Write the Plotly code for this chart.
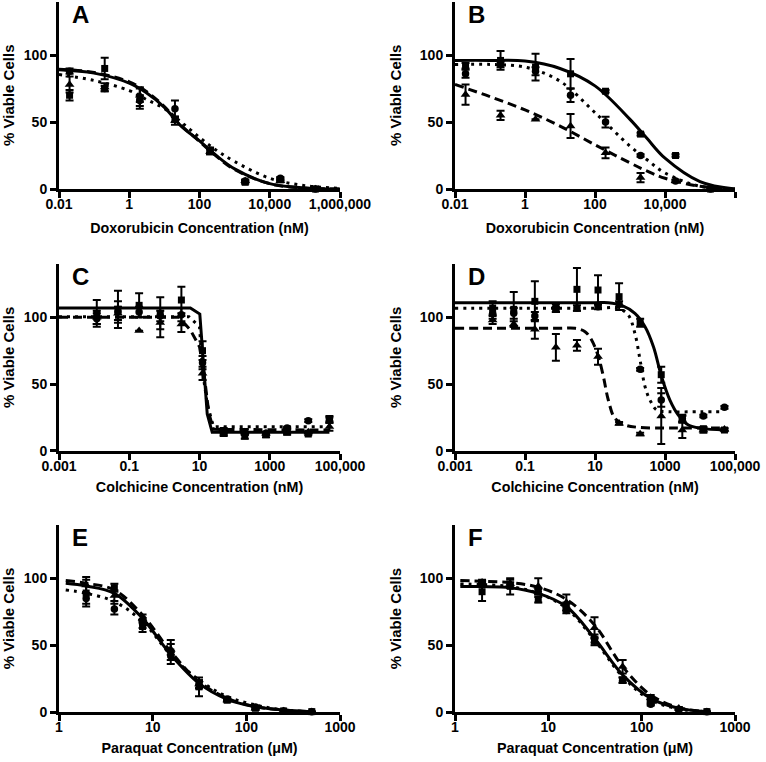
import plotly.graph_objects as go

# ---------------- data ----------------
dox_conc = [0.02, 0.2, 2, 20, 200, 2000, 20000, 200000]
colch_conc = [0.0119, 0.0477, 0.191, 0.763, 3.05, 12.2, 48.8, 195, 781, 3125, 12500, 50000]
pq_conc = [1.95, 3.9, 7.8, 15.6, 31.25, 62.5, 125, 250, 500]

# Panel A
A_sq = [70, 90, 68, 52, 28, 5, 7, 0]
A_sq_err = [4, 8, 8, 2, 2, 1, 1, 0]
A_ci = [88, 75, 66, 60, 29, 6, 8, 0]
A_ci_err = [2, 2, 4, 6, 2, 1, 1, 0]
A_tri = [78, 76, 70, 51, 28, 6, 6, 0]
A_tri_err = [6, 3, 5, 3, 2, 1, 1, 0]
A_fit_x = [0.01, 0.1, 1, 3, 10, 30, 100, 300, 1000, 10000, 100000, 1000000]
A_sq_fit = [89, 86.5, 79, 72, 61, 47, 36, 25, 15, 4, 0.8, 0]
A_ci_fit = [85.5, 81, 73.5, 67, 60, 50, 38.5, 29, 20.5, 8, 2.5, 0.5]
A_tri_fit = [89.5, 87, 80, 73, 61.5, 47.5, 35.5, 24.5, 14.5, 4, 0.7, 0]

# Panel B
B_sq = [92, 96, 91, 86, 73, 41, 25, 0]
B_sq_err = [2, 7, 10, 11, 1, 1, 1, 0]
B_ci = [86, 93, 88, 70, 50, 25, 6, 0]
B_ci_err = [3, 2, 3, 5, 4, 1, 1, 0]
B_tri = [70.5, 55, 52, 47, 27, 8.5, 6, 0]
B_tri_err = [7.5, 3.5, 0, 9, 4, 3.5, 1, 0]
B_fit_x = [0.01, 0.1, 1, 10, 100, 1000, 3000, 10000, 100000, 1000000]
B_sq_fit = [96, 96, 95.5, 90, 77, 52, 38, 23, 5.5, 0]
B_ci_fit = [93, 93, 91, 80.5, 57, 32, 22, 12, 2, 0]
B_tri_fit = [78, 69, 59, 47, 33, 19.5, 13.5, 8, 2, 0]

# Panel C
C_sq = [103, 106, 109, 103, 113, 75, 13, 11, 12, 14, 12.5, 23]
C_sq_err = [10, 14, 9, 12, 10, 7, 2, 2, 2, 2, 1, 2]
C_ci = [99, 104, 104, 101, 102, 66, 14, 13, 13, 17, 22.5, 24]
C_ci_err = [4, 8, 4, 4, 5, 5, 2, 1, 1, 1, 1, 2]
C_tri = [100, 103, 90, 96, 95, 58, 15, 14, 13, 15, 14, 18]
C_tri_err = [5, 5, 0, 11, 6, 5, 2, 2, 1, 2, 1, 3]
C_sq_fit_x = [0.001, 5.5, 10.2, 16.6, 23, 50000]
C_sq_fit = [107, 107, 102.5, 27.5, 13.75, 13.75]
C_ci_fit_x = [0.001, 5, 10, 12.2, 16.6, 25, 50000]
C_ci_fit = [100.5, 100.5, 93, 60, 35, 18, 18]
C_tri_fit_x = [0.001, 2.6, 5.5, 10, 13.4, 18.5, 25, 50000]
C_tri_fit = [100, 100, 90.5, 78, 58, 28, 16, 15.5]

# Panel D
D_sq = [107, 106, 112, 107, 121, 120.5, 115.5, 96, 57, 24, 16.5, 15.5]
D_sq_err = [5, 13, 15, 3, 16, 11, 10, 3, 6, 3, 1, 1]
D_ci = [103, 103, 101, 106, 107, 108, 110, 61, 38, 24, 26, 32.5]
D_ci_err = [4, 4, 3, 2, 2, 2, 2, 1, 5, 2, 1, 1]
D_tri = [98, 95, 91, 77.5, 79, 70.5, 20.5, 12.5, 26, 15.5, 15.5, 16]
D_tri_err = [3, 2, 7, 10, 4, 6, 1, 1, 21, 6, 2, 1]
D_sq_fit_x = [0.001, 0.1, 10, 24, 58, 138, 269, 468, 798, 1380, 2400, 4650, 11200, 50000]
D_sq_fit = [111, 111, 111, 111, 109, 103, 93, 78, 55.5, 38, 26.75, 19.25, 16.75, 15.5]
D_ci_fit_x = [0.001, 0.1, 10, 46, 89, 138, 194, 269, 372, 576, 1270, 10000, 50000]
D_ci_fit = [106.75, 106.75, 106.75, 106.75, 101.75, 88, 68, 48, 38, 30.5, 29.25, 29.25, 29.25]
D_tri_fit_x = [0.001, 0.01, 0.1, 1, 2.7, 5.2, 8, 12.5, 17.4, 24, 37, 72, 174, 2000, 50000]
D_tri_fit = [91.75, 91.75, 91.75, 91.75, 91.75, 89.25, 83, 70.5, 55.5, 38, 24.25, 19.25, 17.5, 17, 17]

# Panel E
E_sq = [89, 93, 64, 45, 19, 9, 3, 1, 0.5]
E_sq_err = [10, 3, 4, 9, 7, 1, 1, 0, 0]
E_ci = [85, 77, 66, 42, 21, 10, 4, 1, 0.5]
E_ci_err = [4, 4, 3, 3, 3, 1, 1, 0, 0]
E_tri = [95, 87, 70, 47, 21, 9, 3, 1, 0.5]
E_tri_err = [6, 4, 3, 4, 3, 1, 1, 0, 0]
E_fit_x = [1.18, 1.95, 3.9, 7.8, 15.6, 31.25, 62.5, 125, 250, 500]
E_sq_fit = [96.3, 94.3, 88.8, 70.1, 43, 21.6, 9.7, 4.2, 1.7, 0.5]
E_ci_fit = [91.3, 88.8, 82.6, 67.7, 42.8, 24.1, 11.7, 5.5, 1.7, 0.5]
E_tri_fit = [98.3, 96.3, 91.3, 72.6, 45.3, 22.9, 10.4, 4.2, 1.7, 0.5]

# Panel F
F_sq = [90, 94, 84, 79, 53, 24, 7, 2, 0.5]
F_sq_err = [7, 6, 2, 3, 3, 2, 1, 0, 0]
F_ci = [96, 95, 90, 76, 55, 24, 6, 2, 0.5]
F_ci_err = [2, 2, 2, 2, 3, 2, 1, 0, 0]
F_tri = [97, 96, 94, 82, 63, 34, 11, 3, 0.5]
F_tri_err = [2, 3, 6, 6, 8, 5, 2, 1, 0]
F_fit_x = [1.14, 1.95, 3.9, 7.8, 15.6, 31.25, 62.5, 125, 250, 500]
F_sq_fit = [93.8, 93.8, 93, 88.8, 78.9, 55.2, 27.9, 10.4, 3, 0.5]
F_ci_fit = [95.8, 95.3, 93.8, 88.8, 77.6, 54, 26.6, 9.2, 2.5, 0.5]
F_tri_fit = [98.3, 97.8, 96.8, 93.3, 84.3, 65.2, 34.1, 12.9, 3.5, 0.5]

# tick labels
dox_ticks = [0.01, 1, 100, 10000, 1000000]
dox_ticklabels = ["0.01", "1", "100", "10,000", "1,000,000"]
colch_ticks = [0.001, 0.1, 10, 1000, 100000]
colch_ticklabels = ["0.001", "0.1", "10", "1000", "100,000"]
pq_ticks = [1, 10, 100, 1000]
pq_ticklabels = ["1", "10", "100", "1000"]
y_ticks = [0, 50, 100]
y_ticklabels = ["0", "50", "100"]

panel_letters = ["A", "B", "C", "D", "E", "F"]
x_titles = ["Doxorubicin Concentration (nM)", "Doxorubicin Concentration (nM)",
            "Colchicine Concentration (nM)", "Colchicine Concentration (nM)",
            "Paraquat Concentration (μM)", "Paraquat Concentration (μM)"]
y_title = "% Viable Cells"

# ---------------- figure ----------------
FONT = "Liberation Sans, Arial, Helvetica, sans-serif"
W, H = 766, 762
col_px = [(59, 340), (455, 735)]
row_px = [(1.5, 189), (264, 450.7), (524.7, 712.3)]
row_title_standoff = [13, 10, 9]

DOT = "3px,5px"
DASH = "9px,5px"

panels = [
    dict(conc=dox_conc, sq=A_sq, sqe=A_sq_err, ci=A_ci, cie=A_ci_err, tri=A_tri, trie=A_tri_err,
         fits=[(A_fit_x, A_sq_fit), (A_fit_x, A_ci_fit), (A_fit_x, A_tri_fit)], shape="spline",
         xr=[-2, 6], tv=dox_ticks, tt=dox_ticklabels),
    dict(conc=dox_conc, sq=B_sq, sqe=B_sq_err, ci=B_ci, cie=B_ci_err, tri=B_tri, trie=B_tri_err,
         fits=[(B_fit_x, B_sq_fit), (B_fit_x, B_ci_fit), (B_fit_x, B_tri_fit)], shape="spline",
         xr=[-2, 6], tv=dox_ticks, tt=dox_ticklabels),
    dict(conc=colch_conc, sq=C_sq, sqe=C_sq_err, ci=C_ci, cie=C_ci_err, tri=C_tri, trie=C_tri_err,
         fits=[(C_sq_fit_x, C_sq_fit), (C_ci_fit_x, C_ci_fit), (C_tri_fit_x, C_tri_fit)], shape="linear",
         xr=[-3, 5], tv=colch_ticks, tt=colch_ticklabels),
    dict(conc=colch_conc, sq=D_sq, sqe=D_sq_err, ci=D_ci, cie=D_ci_err, tri=D_tri, trie=D_tri_err,
         fits=[(D_sq_fit_x, D_sq_fit), (D_ci_fit_x, D_ci_fit), (D_tri_fit_x, D_tri_fit)], shape="spline",
         xr=[-3, 5], tv=colch_ticks, tt=colch_ticklabels),
    dict(conc=pq_conc, sq=E_sq, sqe=E_sq_err, ci=E_ci, cie=E_ci_err, tri=E_tri, trie=E_tri_err,
         fits=[(E_fit_x, E_sq_fit), (E_fit_x, E_ci_fit), (E_fit_x, E_tri_fit)], shape="spline",
         xr=[0, 3], tv=pq_ticks, tt=pq_ticklabels),
    dict(conc=pq_conc, sq=F_sq, sqe=F_sq_err, ci=F_ci, cie=F_ci_err, tri=F_tri, trie=F_tri_err,
         fits=[(F_fit_x, F_sq_fit), (F_fit_x, F_ci_fit), (F_fit_x, F_tri_fit)], shape="spline",
         xr=[0, 3], tv=pq_ticks, tt=pq_ticklabels),
]

fig = go.Figure()
layout = dict(width=W, height=H, margin=dict(l=0, r=0, t=0, b=0, autoexpand=False),
              paper_bgcolor="white", plot_bgcolor="white", showlegend=False,
              font=dict(family=FONT, color="black"))
annotations = []

dashes = ["solid", DOT, DASH]
symbols = [("square", 7), ("circle", 7.5), ("triangle-up", 8.5)]


def fx_(px):
    return px / W


def fy_(py):
    return 1 - py / H


for i, p in enumerate(panels):
    r, c = divmod(i, 2)
    xa = "x" if i == 0 else f"x{i+1}"
    ya = "y" if i == 0 else f"y{i+1}"
    for (fx, fy), d in zip(p["fits"], dashes):
        fig.add_trace(go.Scatter(x=fx, y=fy, mode="lines", xaxis=xa, yaxis=ya,
                                 line=dict(color="black", width=3, dash=d, shape=p["shape"]),
                                 cliponaxis=False, hoverinfo="skip"))
    for (vals, errs), (sym, sz) in zip([(p["sq"], p["sqe"]), (p["ci"], p["cie"]), (p["tri"], p["trie"])], symbols):
        fig.add_trace(go.Scatter(x=p["conc"], y=vals, mode="markers", xaxis=xa, yaxis=ya,
                                 marker=dict(symbol=sym, size=sz, color="black"),
                                 error_y=dict(type="data", array=errs, visible=True, color="black",
                                              thickness=2, width=4),
                                 cliponaxis=False))
    x0, x1 = col_px[c]
    yt, yb = row_px[r]
    common = dict(showline=True, linecolor="black", linewidth=3, ticks="outside", ticklen=6,
                  tickwidth=3, tickcolor="black", showgrid=False, zeroline=False, automargin=False,
                  tickfont=dict(family=FONT, size=14, color="black", weight="bold"))
    layout["xaxis" if i == 0 else f"xaxis{i+1}"] = dict(
        common, type="log", range=p["xr"], tickvals=p["tv"], ticktext=p["tt"],
        domain=[fx_(x0), fx_(x1)], anchor=ya, ticklabelstandoff=-6,
        title=dict(text=x_titles[i], font=dict(family=FONT, size=14.3, color="black", weight="bold"),
                   standoff=row_title_standoff[r]))
    layout["yaxis" if i == 0 else f"yaxis{i+1}"] = dict(
        common, range=[0, 140], tickvals=y_ticks, ticktext=y_ticklabels,
        domain=[fy_(yb), fy_(yt)], anchor=xa,
        title=dict(text=y_title, font=dict(family=FONT, size=15, color="black", weight="bold")))
    annotations.append(dict(text=panel_letters[i], xref="paper", yref="paper",
                            x=fx_(x0 + 11), y=fy_(yt + 13), xanchor="left", yanchor="middle",
                            showarrow=False,
                            font=dict(family=FONT, size=24, color="black", weight="bold")))

layout["annotations"] = annotations
fig.update_layout(**layout)
fig.write_html("out.html", config={"displayModeBar": False},
               post_script="document.body.style.margin='0px'; document.body.style.padding='0px';")
